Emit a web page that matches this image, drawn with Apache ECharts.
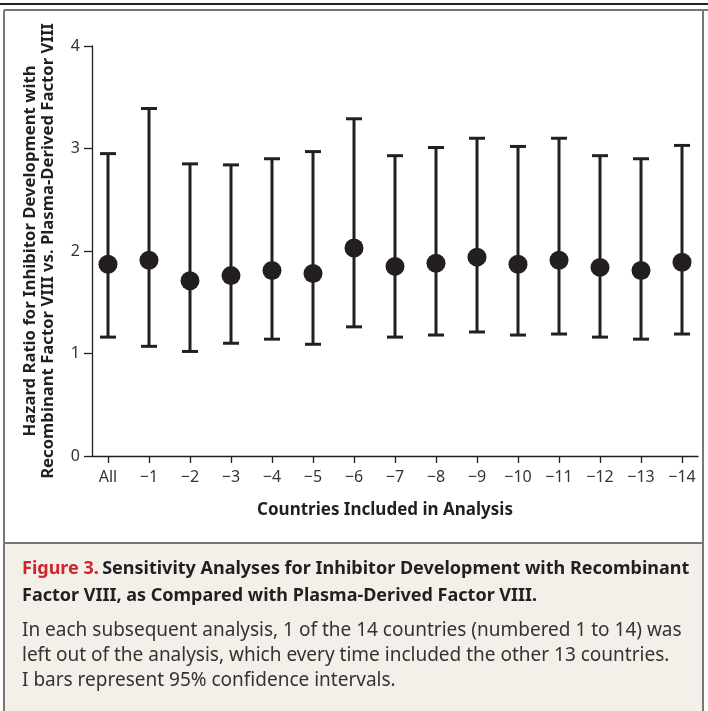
<!DOCTYPE html>
<html>
<head>
<meta charset="utf-8">
<script src="https://cdn.jsdelivr.net/npm/echarts@6/dist/echarts.min.js"></script>
<style>
  html, body { margin: 0; padding: 0; background: #fff; }
  #chart { width: 708px; height: 711px; }
</style>
</head>
<body>
<div id="chart"></div>
<script>
// countries left out of each analysis
const categories = ['All', '−1', '−2', '−3', '−4', '−5', '−6', '−7', '−8', '−9', '−10', '−11', '−12', '−13', '−14'];
const hazardRatio = [1.87, 1.91, 1.71, 1.76, 1.81, 1.78, 2.03, 1.85, 1.88, 1.94, 1.87, 1.91, 1.84, 1.81, 1.89];
const lowerCI = [1.16, 1.07, 1.02, 1.10, 1.14, 1.09, 1.26, 1.16, 1.18, 1.21, 1.18, 1.19, 1.16, 1.14, 1.19];
const upperCI = [2.95, 3.39, 2.85, 2.84, 2.90, 2.97, 3.29, 2.93, 3.01, 3.10, 3.02, 3.10, 2.93, 2.90, 3.03];
const yTicks = [0, 1, 2, 3, 4];

const ink = '#231f20';
const font = '"Noto Sans", sans-serif';

const myChart = echarts.init(document.getElementById('chart'));

const pointData = categories.map((c, i) => [i, hazardRatio[i]]);
const barData = categories.map((c, i) => [i, lowerCI[i], upperCI[i]]);
const tickIdx = categories.map((c, i) => i);

const renderBar = (params, api) => {
  const x = api.value(0);
  const lo = api.coord([x, api.value(1)]);
  const hi = api.coord([x, api.value(2)]);
  const hw = 8;
  const st = { stroke: ink, lineWidth: 3 };
  return {
    type: 'group',
    children: [
      { type: 'line', shape: { x1: hi[0], y1: hi[1], x2: lo[0], y2: lo[1] }, style: st },
      { type: 'line', shape: { x1: hi[0] - hw, y1: hi[1], x2: hi[0] + hw, y2: hi[1] }, style: st },
      { type: 'line', shape: { x1: lo[0] - hw, y1: lo[1], x2: lo[0] + hw, y2: lo[1] }, style: st }
    ]
  };
};

const option = {
  animation: false,
  backgroundColor: '#fff',
  textStyle: { fontFamily: font },
  grid: { left: 92, right: 10, top: 46, bottom: 255 },
  xAxis: {
    type: 'value',
    min: -0.39,
    max: 14.39,
    splitLine: { show: false },
    axisLine: { show: true, onZero: false, lineStyle: { color: ink, width: 1.3 } },
    axisTick: { show: true, length: 7, customValues: tickIdx, lineStyle: { color: ink, width: 1.3 } },
    axisLabel: {
      customValues: tickIdx,
      margin: 13,
      fontSize: 16,
      color: '#333',
      fontFamily: font,
      formatter: (v) => categories[Math.round(v)]
    },
    name: 'Countries Included in Analysis',
    nameLocation: 'middle',
    nameGap: 46,
    nameTextStyle: { fontSize: 17, fontWeight: 'bold', color: ink, fontFamily: font, padding: [0, 20, 0, 0] }
  },
  yAxis: {
    type: 'value',
    min: 0,
    max: 4,
    interval: 1,
    splitLine: { show: false },
    axisLine: { show: true, onZero: false, lineStyle: { color: ink, width: 1.3 } },
    axisTick: { show: true, length: 8, lineStyle: { color: ink, width: 1.3 } },
    axisLabel: {
      margin: 12,
      fontSize: 16,
      color: '#333',
      fontFamily: font,
      formatter: (v) => (yTicks.includes(v) ? String(v) : '')
    },
    name: 'Hazard Ratio for Inhibitor Development with\nRecombinant Factor VIII vs. Plasma-Derived Factor VIII',
    nameLocation: 'middle',
    nameGap: 35,
    nameTextStyle: { fontSize: 16.7, fontWeight: 'bold', color: ink, fontFamily: font, lineHeight: 18 }
  },
  graphic: [
    // frame
    { type: 'line', shape: { x1: 0, y1: 4, x2: 708, y2: 4 }, style: { stroke: ink, lineWidth: 2 } },
    { type: 'rect', shape: { x: 5, y: 544, width: 698, height: 167 }, style: { fill: '#f3f0ea' } },
    { type: 'line', shape: { x1: 4, y1: 10, x2: 708, y2: 10 }, style: { stroke: '#777', lineWidth: 2 } },
    { type: 'line', shape: { x1: 4, y1: 10, x2: 4, y2: 711 }, style: { stroke: '#777', lineWidth: 2 } },
    { type: 'line', shape: { x1: 703, y1: 10, x2: 703, y2: 711 }, style: { stroke: '#777', lineWidth: 2 } },
    { type: 'line', shape: { x1: 4, y1: 543, x2: 703, y2: 543 }, style: { stroke: '#777', lineWidth: 2 } },
    // caption
    {
      type: 'text', left: 22, top: 555,
      style: {
        text: '{r|Figure 3.} {b|Sensitivity Analyses for Inhibitor Development with Recombinant}\n{b|Factor VIII, as Compared with Plasma-Derived Factor VIII.}',
        lineHeight: 27,
        rich: {
          r: { fontSize: 18, fontWeight: 'bold', fill: '#d2232a', fontFamily: font, lineHeight: 27 },
          b: { fontSize: 18, fontWeight: 'bold', fill: ink, fontFamily: font, lineHeight: 27 }
        }
      }
    },
    {
      type: 'text', left: 22, top: 618,
      style: {
        text: 'In each subsequent analysis, 1 of the 14 countries (numbered 1 to 14) was\nleft out of the analysis, which every time included the other 13 countries.\nI bars represent 95% confidence intervals.',
        fontSize: 19,
        lineHeight: 25,
        fill: '#333',
        fontFamily: font
      }
    }
  ],
  series: [
    {
      type: 'custom',
      renderItem: renderBar,
      encode: { x: 0, y: [1, 2] },
      data: barData,
      z: 2
    },
    {
      type: 'scatter',
      symbol: 'circle',
      symbolSize: 19,
      itemStyle: { color: ink, opacity: 1 },
      data: pointData,
      z: 3
    }
  ]
};
myChart.setOption(option);
</script>
</body>
</html>
